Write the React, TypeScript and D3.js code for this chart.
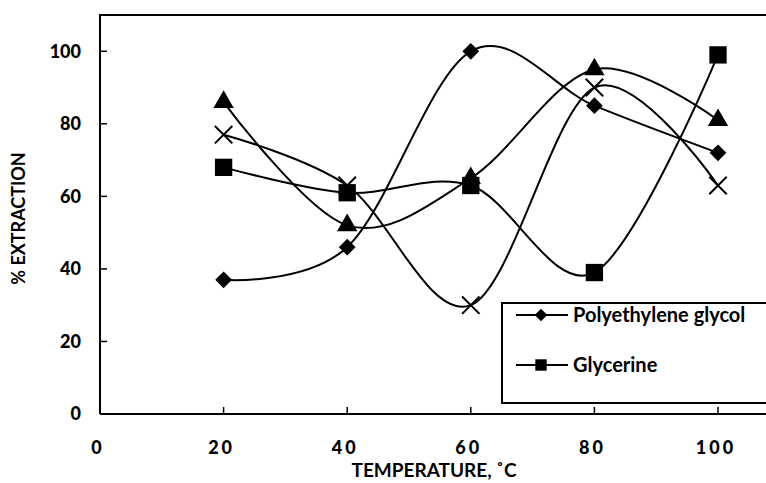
import React, { useEffect, useRef } from "react";
import * as d3 from "d3";

const temps = [20, 40, 60, 80, 100];
const peg = [37, 46, 100, 85, 72];
const glycerine = [68, 61, 63, 39, 99];
const triSeries = [86, 52, 65, 95, 81];
const crossSeries = [77, 63, 30, 90, 63];
const xTicks = [0, 20, 40, 60, 80, 100];
const yTicks = [0, 20, 40, 60, 80, 100];

const App = () => {
  const ref = useRef<SVGSVGElement>(null);

  useEffect(() => {
    const svg = d3.select(ref.current);
    svg.selectAll("*").remove();
    const W = 766;
    const left = 100, top = 15, bottom = 414;
    const x = d3.scaleLinear().domain([0, 100]).range([left, 718]);
    const y = d3.scaleLinear().domain([0, 110]).range([bottom, top]);
    const font = "Lato, 'Open Sans', sans-serif";

    // frame
    svg.append("path")
      .attr("d", `M${left},${bottom}V${top}H${W + 20}`)
      .attr("fill", "none").attr("stroke", "#000").attr("stroke-width", 2);
    svg.append("line")
      .attr("x1", left).attr("x2", W + 20).attr("y1", bottom).attr("y2", bottom)
      .attr("stroke", "#000").attr("stroke-width", 2);

    // ticks
    svg.selectAll(".yt").data(yTicks.slice(1)).enter().append("line")
      .attr("x1", left).attr("x2", left + 7)
      .attr("y1", (d) => y(d)).attr("y2", (d) => y(d))
      .attr("stroke", "#000").attr("stroke-width", 1.5);
    svg.selectAll(".xt").data(xTicks.slice(1)).enter().append("line")
      .attr("x1", (d) => x(d)).attr("x2", (d) => x(d))
      .attr("y1", bottom).attr("y2", bottom - 7)
      .attr("stroke", "#000").attr("stroke-width", 1.5);

    svg.selectAll(".yl").data(yTicks).enter().append("text")
      .attr("x", 81).attr("y", (d) => y(d)).attr("dy", "0.36em")
      .attr("text-anchor", "end")
      .style("font-family", font).style("font-weight", "900").style("font-size", "18px")
      .text((d) => d);
    svg.selectAll(".xl").data(xTicks).enter().append("text")
      .attr("x", (d) => x(d) - 2).attr("y", 448).attr("dy", "0.36em")
      .attr("text-anchor", "middle")
      .style("font-family", font).style("font-weight", "900").style("font-size", "18px")
      .style("letter-spacing", "3px")
      .text((d) => d);

    svg.append("text")
      .attr("x", 434).attr("y", 477).attr("text-anchor", "middle")
      .style("font-family", font).style("font-weight", "bold").style("font-size", "19px")
      .text("TEMPERATURE, ˚C");
    svg.append("text")
      .attr("transform", `translate(25,${(top + bottom) / 2 + 4}) rotate(-90)`)
      .attr("text-anchor", "middle")
      .style("font-family", font).style("font-weight", "bold").style("font-size", "18px")
      .text("% EXTRACTION");

    const line = d3.line<number>()
      .x((d, i) => x(temps[i]))
      .y((d) => y(d))
      .curve(d3.curveCardinal.tension(0));

    const series = [
      { values: peg, sym: d3.symbolSquare, size: 140, rot: 45 },
      { values: glycerine, sym: d3.symbolSquare, size: 300, rot: 0 },
      { values: triSeries, sym: d3.symbolTriangle, size: 180, rot: 0 },
      { values: crossSeries, sym: d3.symbolX, size: 200, rot: 0 },
    ];

    series.forEach((s) => {
      svg.append("path").attr("d", line(s.values))
        .attr("fill", "none").attr("stroke", "#000").attr("stroke-width", 2);
    });
    series.forEach((s) => {
      const isX = s.sym === d3.symbolX;
      svg.selectAll(null).data(s.values).enter().append("path")
        .attr("d", d3.symbol(s.sym, s.size)())
        .attr("transform", (d, i) => `translate(${x(temps[i])},${y(d)}) rotate(${s.rot})`)
        .attr("fill", isX ? "none" : "#000")
        .attr("stroke", "#000").attr("stroke-width", isX ? 2 : 0);
    });

    // legend
    svg.append("rect")
      .attr("x", 502).attr("y", 303).attr("width", 300).attr("height", 100)
      .attr("fill", "#fff").attr("stroke", "#000").attr("stroke-width", 2);
    const legend = [
      { name: "Polyethylene glycol", size: 80, rot: 45, ly: 315 },
      { name: "Glycerine", size: 130, rot: 0, ly: 365 },
    ];
    legend.forEach((l) => {
      svg.append("line").attr("x1", 516).attr("x2", 568).attr("y1", l.ly).attr("y2", l.ly)
        .attr("stroke", "#000").attr("stroke-width", 2);
      svg.append("path").attr("d", d3.symbol(d3.symbolSquare, l.size)())
        .attr("transform", `translate(${541},${l.ly}) rotate(${l.rot})`).attr("fill", "#000");
      svg.append("text").attr("x", 573).attr("y", l.ly).attr("dy", "0.36em")
        .style("font-family", font).style("font-weight", "bold").style("font-size", "20px")
        .text(l.name);
    });
  }, []);

  return <svg ref={ref} width={766} height={483} style={{ display: "block", position: "absolute", left: 0, top: 0 }} />;
};

export default App;
